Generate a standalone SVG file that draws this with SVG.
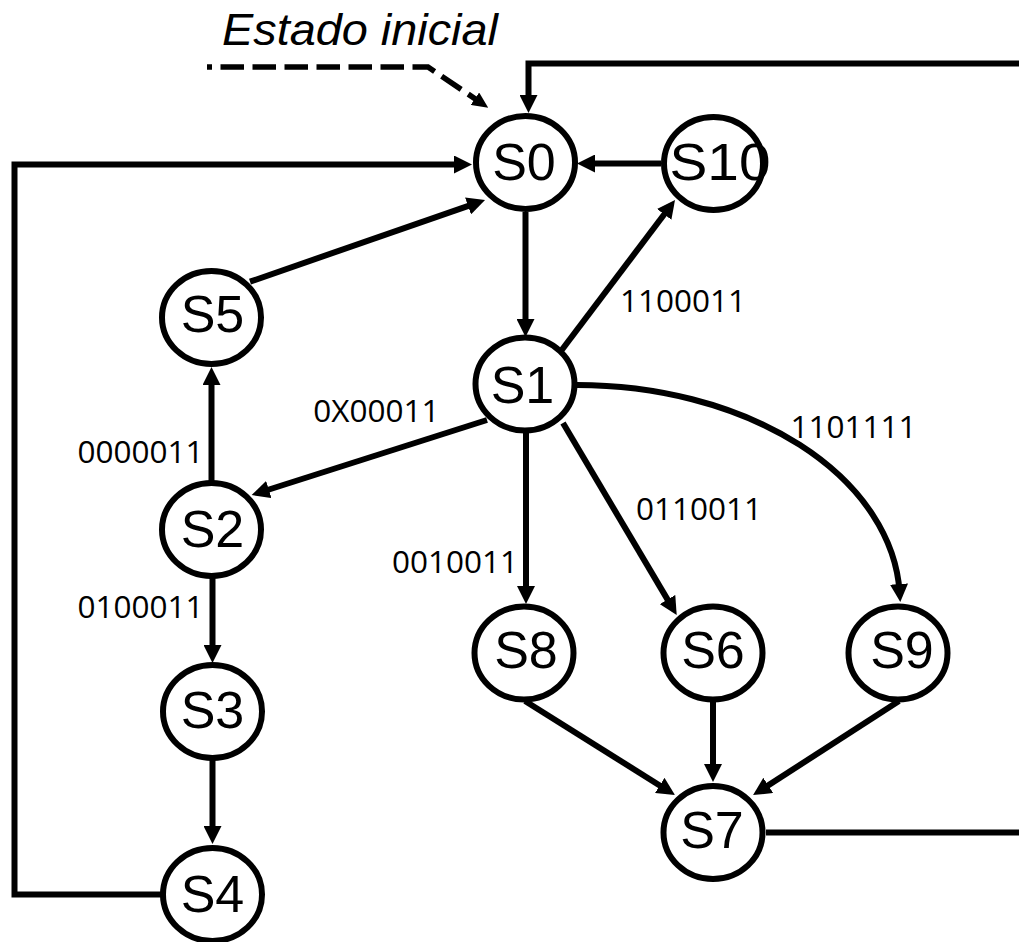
<svg xmlns="http://www.w3.org/2000/svg" width="1019" height="942" viewBox="0 0 1019 942">
  <style>
    .edge { fill: none; stroke: #000; stroke-width: 6; stroke-linejoin: miter; stroke-linecap: butt; }
    .arr { marker-end: url(#head); }
    .init { fill: none; stroke: #000; stroke-width: 5.5; stroke-dasharray: 23.5 8.5; stroke-dashoffset: 18.5; marker-end: url(#headSmall); }
    .state ellipse { fill: #fff; stroke: #000; stroke-width: 6; }
    .state text { font-family: "Liberation Sans", Arial, sans-serif; font-size: 52px; fill: #000; text-anchor: middle; }
    .lbl { font-family: "Open Sans", "Noto Sans", sans-serif; font-size: 31.5px; fill: #000; text-anchor: middle; }
    .title { font-family: "Liberation Sans", Arial, sans-serif; font-style: italic; font-size: 44px; fill: #000; }
  </style>
  <defs>
    <marker id="head" markerUnits="userSpaceOnUse" viewBox="0 0 18 18" refX="8" refY="9" markerWidth="18" markerHeight="18" orient="auto">
      <path d="M0,0 L18,9 L0,18 z" fill="#000"/>
    </marker>
    <marker id="headSmall" markerUnits="userSpaceOnUse" viewBox="0 0 16 15" refX="8" refY="7.5" markerWidth="16" markerHeight="15" orient="auto">
      <path d="M0,0 L16,7.5 L0,15 z" fill="#000"/>
    </marker>
  </defs>

  <rect width="1019" height="942" fill="#fff"/>

  <!-- initial-state pointer -->
  <g id="initial">
    <text class="title" x="222" y="45" textLength="276" lengthAdjust="spacingAndGlyphs">Estado inicial</text>
    <path class="init" d="M207,67 H428 L481.6,103.2"/>
  </g>

  <!-- transitions -->
  <g id="connectors">
    <!-- S7 back to S0 over the right side -->
    <path class="edge arr" d="M766,832.5 H1034 V63.5 H528.5 V103"/>
    <!-- S4 back to S0 over the left side -->
    <path class="edge arr" d="M162,894.5 H14.5 V164.5 H462"/>
    <!-- S10 -> S0 -->
    <path class="edge arr" d="M661,163.5 H587"/>
    <!-- S0 -> S1 -->
    <path class="edge arr" d="M525.5,212 V327"/>
    <!-- S5 -> S0 -->
    <path class="edge arr" d="M250,281.7 L475.6,203.3"/>
    <!-- S1 -> S10 -->
    <path class="edge arr" d="M561,351 L669,208"/>
    <!-- S1 -> S2 -->
    <path class="edge arr" d="M487,420 L261.2,492"/>
    <!-- S2 -> S5 -->
    <path class="edge arr" d="M211.5,481 V377"/>
    <!-- S2 -> S3 -->
    <path class="edge arr" d="M212.5,578 V653"/>
    <!-- S3 -> S4 -->
    <path class="edge arr" d="M212.5,760 V834"/>
    <!-- S1 -> S8 -->
    <path class="edge arr" d="M526,432 V594"/>
    <!-- S1 -> S6 -->
    <path class="edge arr" d="M563,423 L671.6,606.4"/>
    <!-- S1 -> S9 -->
    <path class="edge arr" d="M576,385 A323,217 0 0 1 899.6,592"/>
    <!-- S8 -> S7 -->
    <path class="edge arr" d="M525,701 L666.5,789.7"/>
    <!-- S6 -> S7 -->
    <path class="edge arr" d="M713,701 V772"/>
    <!-- S9 -> S7 -->
    <path class="edge arr" d="M899,701 L761.5,789.7"/>
  </g>

  <!-- transition conditions -->
  <g id="labels">
    <text class="lbl" x="683" y="312">1100011</text>
    <text class="lbl" x="376.5" y="422">0X00011</text>
    <text class="lbl" x="853.5" y="438">1101111</text>
    <text class="lbl" x="699" y="520">0110011</text>
    <text class="lbl" x="455" y="573">0010011</text>
    <text class="lbl" x="140.5" y="463">0000011</text>
    <text class="lbl" x="140.5" y="618">0100011</text>
  </g>

  <!-- states -->
  <g id="S0" class="state"><ellipse cx="525.5" cy="162.5" rx="49.5" ry="46.5"/><text x="524" y="180">S0</text></g>
  <g id="S10" class="state"><ellipse cx="713.5" cy="163.5" rx="49.5" ry="46.5"/><text x="720" y="180" textLength="101" lengthAdjust="spacingAndGlyphs">S10</text></g>
  <g id="S1" class="state"><ellipse cx="525" cy="384" rx="49.5" ry="46.5"/><text x="522.5" y="403">S1</text></g>
  <g id="S5" class="state"><ellipse cx="211.5" cy="317.5" rx="49.5" ry="46.5"/><text x="212.5" y="332">S5</text></g>
  <g id="S2" class="state"><ellipse cx="211.5" cy="529.5" rx="49.5" ry="46.5"/><text x="212.5" y="547">S2</text></g>
  <g id="S3" class="state"><ellipse cx="212.5" cy="711.5" rx="49.5" ry="46.5"/><text x="212.5" y="728">S3</text></g>
  <g id="S4" class="state"><ellipse cx="212.5" cy="894.5" rx="49.5" ry="46.5"/><text x="212.5" y="912">S4</text></g>
  <g id="S8" class="state"><ellipse cx="524" cy="653" rx="49.5" ry="46.5"/><text x="526" y="668">S8</text></g>
  <g id="S6" class="state"><ellipse cx="713" cy="653" rx="49.5" ry="46.5"/><text x="713" y="668">S6</text></g>
  <g id="S9" class="state"><ellipse cx="898" cy="653" rx="49.5" ry="46.5"/><text x="902" y="668">S9</text></g>
  <g id="S7" class="state"><ellipse cx="713" cy="832.5" rx="49.5" ry="46.5"/><text x="712" y="848">S7</text></g>
</svg>
